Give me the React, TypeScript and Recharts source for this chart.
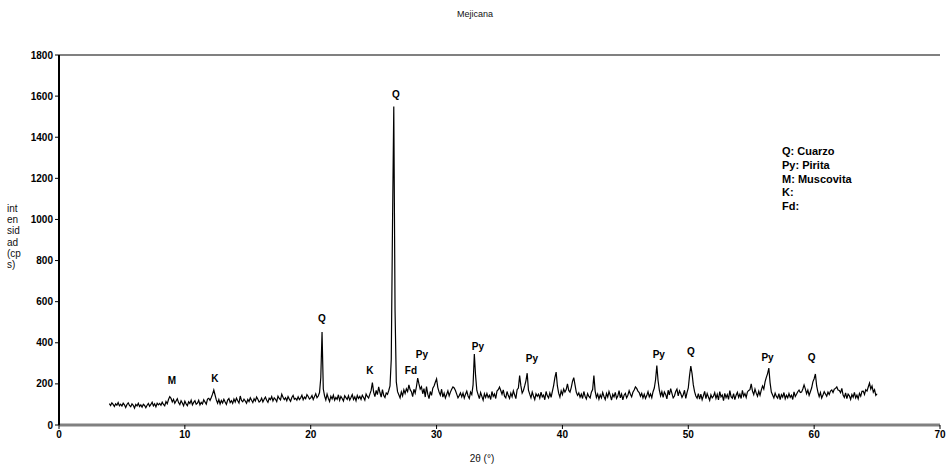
import React from 'react';
import { LineChart, Line, XAxis, YAxis, ReferenceDot, ReferenceLine } from 'recharts';

const TITLE = 'Mejicana';
const X_LABEL = '2θ (°)';
const Y_LABEL_LINES = ['int', 'en', 'sid', 'ad', '(cp', 's)'];
const LEGEND_LINES = ['Q: Cuarzo', 'Py: Pirita', 'M: Muscovita', 'K:', 'Fd:'];

const X_TICKS = [0, 10, 20, 30, 40, 50, 60, 70];
const Y_TICKS = [0, 200, 400, 600, 800, 1000, 1200, 1400, 1600, 1800];

// 2θ sampling grid: 4.0° to 65.0° in 0.1° steps
const ANGLE_START = 4;
const ANGLE_STEP = 0.1;

// intensity (cps), one row per degree (4.x ... 64.x), then 65.0
const INTENSITY = [
  104, 95, 108, 100, 90, 103, 96, 109, 93, 101,
  92, 106, 98, 85, 100, 108, 95, 89, 103, 96,
  82, 100, 93, 106, 90, 98, 87, 101, 95, 84,
  96, 105, 91, 100, 111, 93, 103, 88, 106, 98,
  105, 96, 111, 100, 93, 114, 103, 124, 138, 130,
  112, 125, 106, 117, 128, 109, 99, 118, 107, 94,
  116, 103, 94, 113, 105, 121, 98, 110, 118, 101,
  106, 120, 98, 110, 102, 123, 112, 101, 126, 130,
  120, 134, 150, 170, 146, 122, 106, 124, 102, 119,
  107, 125, 112, 100, 121, 129, 109, 118, 105, 126,
  112, 131, 118, 107, 141, 120, 113, 126, 117, 106,
  124, 114, 132, 120, 109, 128, 117, 136, 125, 112,
  117, 131, 112, 125, 136, 120, 110, 130, 123, 138,
  117, 132, 125, 114, 140, 129, 122, 150, 135, 124,
  133, 118, 138, 126, 115, 134, 144, 125, 130, 121,
  137, 124, 132, 145, 123, 136, 128, 148, 139, 126,
  132, 143, 124, 138, 152, 133, 141, 158, 230, 452,
  175, 142, 122, 150, 130, 114, 140, 127, 145, 121,
  134, 125, 147, 120, 139, 129, 117, 142, 133, 124,
  142, 121, 134, 148, 124, 137, 118, 144, 129, 139,
  124, 145, 134, 121, 151, 139, 131, 150, 168, 206,
  160, 138, 168, 148, 186, 158, 136, 172, 144, 134,
  156, 149, 168, 190, 320, 980, 1550, 560, 210, 162,
  147, 132, 161, 142, 171, 153, 176, 163, 195, 172,
  162, 138, 174, 155, 186, 228, 200, 175, 186, 152,
  177, 136, 187, 150, 128, 163, 144, 179, 190, 208,
  224, 182, 160, 145, 174, 136, 155, 131, 148, 166,
  142, 160, 174, 185, 180, 168, 150, 132, 143, 156,
  137, 155, 131, 150, 165, 141, 129, 160, 148, 195,
  345, 240, 168, 148, 128, 158, 139, 121, 152, 134,
  153, 134, 145, 124, 163, 139, 151, 129, 165, 172,
  185, 168, 150, 171, 140, 132, 163, 143, 129, 155,
  137, 166, 147, 128, 172, 180, 240, 190, 155, 168,
  190, 215, 252, 170, 150, 132, 160, 141, 124, 152,
  140, 150, 131, 160, 137, 145, 123, 163, 142, 132,
  156, 135, 163, 192, 230, 257, 190, 155, 136, 166,
  148, 175, 160, 172, 200, 168, 160, 182, 212, 230,
  195, 160, 144, 156, 135, 150, 129, 163, 140, 127,
  153, 139, 132, 160, 172, 240, 165, 134, 151, 126,
  147, 132, 158, 139, 124, 153, 136, 163, 144, 121,
  149, 137, 159, 129, 141, 167, 132, 151, 122, 145,
  154, 132, 145, 167, 150, 137, 159, 170, 185, 178,
  165, 158, 140, 154, 132, 150, 129, 143, 162, 137,
  151, 133, 162, 180, 220, 289, 215, 170, 142, 162,
  135, 161, 149, 127, 169, 146, 177, 154, 132, 141,
  163, 175, 142, 166, 153, 134, 147, 169, 129, 158,
  180, 240, 287, 250, 195, 162, 141, 130, 153, 126,
  150, 123, 142, 164, 128, 153, 136, 120, 147, 132,
  140, 157, 129, 149, 122, 162, 137, 146, 119, 154,
  133, 148, 125, 167, 138, 130, 153, 124, 145, 159,
  135, 150, 129, 169, 140, 153, 134, 161, 168, 172,
  200, 165, 148, 175, 155, 140, 164, 145, 170, 190,
  175, 210, 232, 250, 277, 205, 160, 146, 132, 155,
  139, 131, 153, 124, 148, 136, 158, 128, 145, 132,
  153, 135, 145, 124, 161, 139, 150, 162, 170, 158,
  160, 175, 195, 176, 152, 170, 144, 162, 180, 210,
  225, 248, 190, 160, 138, 158, 131, 146, 162, 151,
  140, 160, 148, 165, 170, 158, 174, 178, 185, 170,
  168, 157, 178, 146, 134, 156, 128, 150, 142, 124,
  148, 135, 159, 132, 145, 127, 154, 140, 164, 165,
  148, 172, 165, 185, 204, 175, 190, 160, 172, 144,
  152,
];

// peak annotations
const PEAK_LABELS = ['M', 'K', 'Q', 'K', 'Q', 'Fd', 'Py', 'Py', 'Py', 'Py', 'Q', 'Py', 'Q'];
const PEAK_ANGLES = [8.97, 12.39, 20.89, 24.7, 26.77, 27.96, 28.83, 33.28, 37.57, 47.66, 50.2, 56.3, 59.8];
const PEAK_HEIGHTS = [219, 228, 516, 263, 1610, 267, 345, 384, 326, 345, 360, 331, 331];

const data = INTENSITY.map((v, i) => ({
  angle: Math.round((ANGLE_START + i * ANGLE_STEP) * 10) / 10,
  cps: v,
}));

const FONT = '"Liberation Sans", Arial, sans-serif';

export default function App() {
  return (
    <div style={{ position: 'absolute', left: 0, top: 0, width: 951, height: 466, background: '#fff', fontFamily: FONT }}>
      <LineChart width={951} height={466} data={data} margin={{ top: 55, right: 11, bottom: 0, left: 0 }}>
        <XAxis
          dataKey="angle"
          type="number"
          domain={[0, 70]}
          ticks={X_TICKS}
          interval={0}
          height={41}
          axisLine={{ stroke: '#808080', strokeWidth: 3 }}
          tickLine={{ stroke: '#000' }}
          tickSize={4}
          tick={{ fill: '#000', fontSize: 10, fontWeight: 'bold', fontFamily: FONT }}
        />
        <YAxis
          type="number"
          domain={[0, 1800]}
          ticks={Y_TICKS}
          interval={0}
          width={59}
          axisLine={{ stroke: '#000', strokeWidth: 2 }}
          tickLine={{ stroke: '#000' }}
          tickSize={4}
          tick={{ fill: '#000', fontSize: 10, fontWeight: 'bold', fontFamily: FONT }}
        />
        <ReferenceLine y={1800} stroke="#808080" strokeWidth={2} />
        <Line type="linear" dataKey="cps" stroke="#000" strokeWidth={1.2} dot={false} isAnimationActive={false} />
        {PEAK_LABELS.map((t, i) => (
          <ReferenceDot
            key={i}
            x={PEAK_ANGLES[i]}
            y={PEAK_HEIGHTS[i]}
            r={0}
            fill="none"
            stroke="none"
            label={{ value: t, position: 'center', fill: '#000', fontSize: 10, fontWeight: 'bold', fontFamily: FONT }}
          />
        ))}
      </LineChart>
      <div style={{ position: 'absolute', left: 0, width: 950, top: 9, textAlign: 'center', fontSize: 9, color: '#111' }}>
        {TITLE}
      </div>
      <div style={{ position: 'absolute', left: 7, top: 203, fontSize: 10, lineHeight: '11.2px', color: '#111' }}>
        {Y_LABEL_LINES.map((l, i) => (
          <div key={i}>{l}</div>
        ))}
      </div>
      <div style={{ position: 'absolute', left: 0, width: 964, top: 453, textAlign: 'center', fontSize: 10, color: '#111' }}>
        {X_LABEL}
      </div>
      <div style={{ position: 'absolute', left: 782, top: 145, width: 110, height: 70, overflow: 'hidden', fontSize: 11, fontWeight: 'bold', lineHeight: '13.8px', color: '#000' }}>
        {LEGEND_LINES.map((l, i) => (
          <div key={i}>{l}</div>
        ))}
      </div>
    </div>
  );
}
